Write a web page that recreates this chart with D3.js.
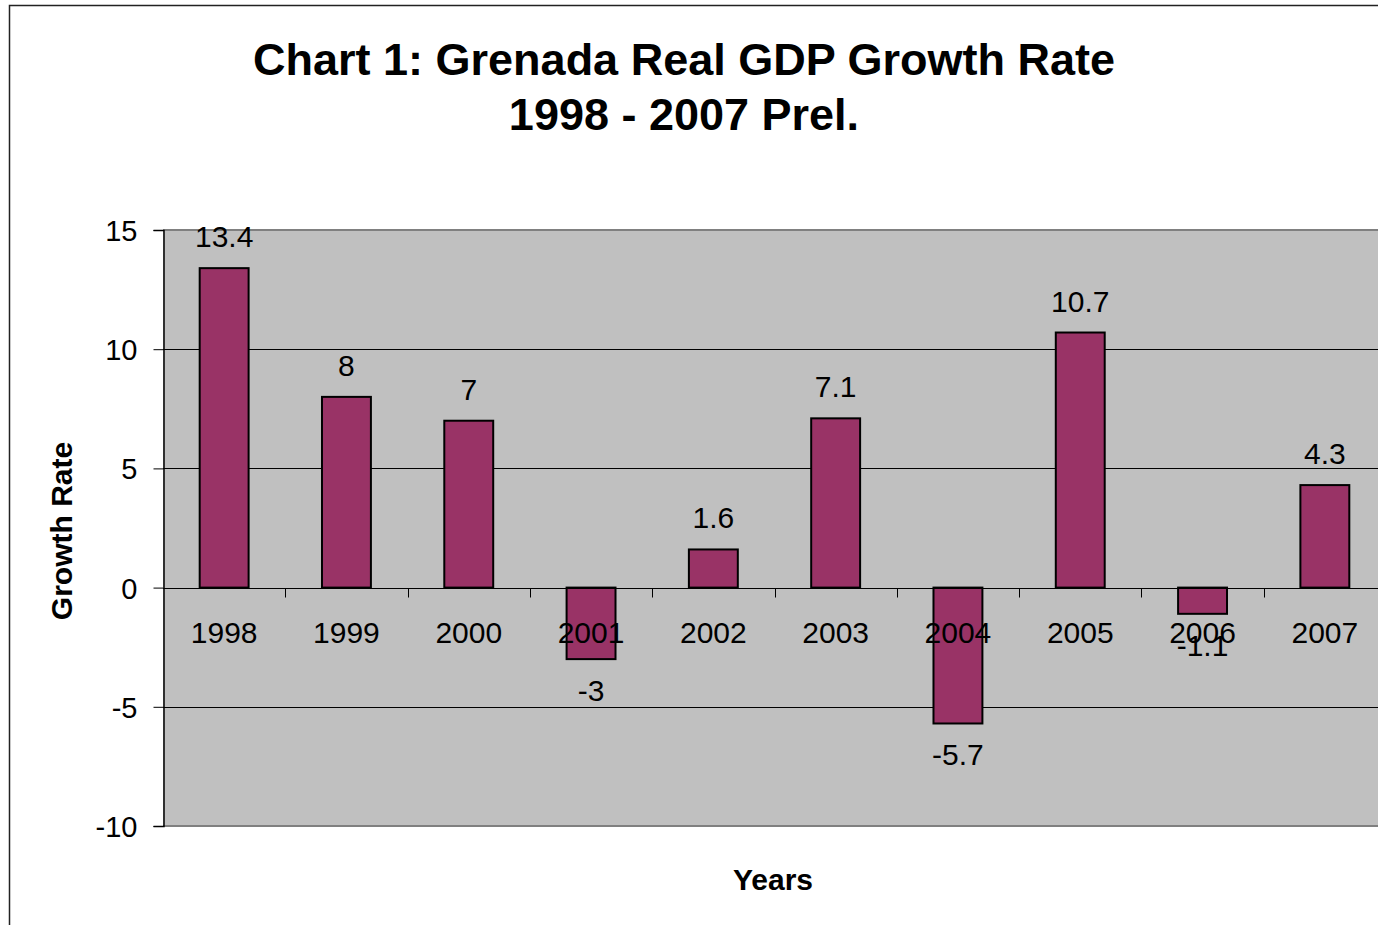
<!DOCTYPE html>
<html>
<head>
<meta charset="utf-8">
<script src="https://cdn.jsdelivr.net/npm/d3@7"></script>
<style>
  html, body { margin: 0; padding: 0; background: #fff; overflow: hidden; }
  text { font-family: "Liberation Sans", Arial, sans-serif; fill: #000; }
</style>
</head>
<body>
<svg id="chart" width="1378" height="925"></svg>
<script>
// Real GDP growth rate, Grenada
const years = ["1998", "1999", "2000", "2001", "2002", "2003", "2004", "2005", "2006", "2007"];
const growth = [13.4, 8, 7, -3, 1.6, 7.1, -5.7, 10.7, -1.1, 4.3];
const yTicks = [-10, -5, 0, 5, 10, 15];
const titleLines = ["Chart 1: Grenada Real GDP Growth Rate", "1998 - 2007 Prel."];

const svg = d3.select("#chart");

// outer chart frame (runs past the right and bottom of the view)
svg.append("rect")
  .attr("x", 9.5).attr("y", 5.5)
  .attr("width", 1500).attr("height", 1100)
  .attr("fill", "#fff").attr("stroke", "#222").attr("stroke-width", 1.5);

const plot = { left: 163, right: 1386, top: 230, bottom: 826 };

const x = d3.scaleBand()
  .domain(years)
  .range([plot.left, plot.right])
  .paddingInner(0.6)
  .paddingOuter(0.3);

const y = d3.scaleLinear()
  .domain([-10, 15])
  .range([plot.bottom, plot.top]);

// plot background
svg.append("rect")
  .attr("x", plot.left).attr("y", plot.top)
  .attr("width", plot.right - plot.left).attr("height", plot.bottom - plot.top)
  .attr("fill", "#c0c0c0");

// horizontal gridlines
svg.append("g")
  .selectAll("line")
  .data(yTicks.filter(d => d !== 15 && d !== -10))
  .join("line")
  .attr("x1", plot.left).attr("x2", plot.right)
  .attr("y1", d => Math.round(y(d)) + 0.5).attr("y2", d => Math.round(y(d)) + 0.5)
  .attr("stroke", "#000").attr("stroke-width", 1);

// plot frame top and bottom
svg.append("line")
  .attr("x1", plot.left).attr("x2", plot.right)
  .attr("y1", plot.top).attr("y2", plot.top)
  .attr("stroke", "#808080").attr("stroke-width", 2);
svg.append("line")
  .attr("x1", plot.left).attr("x2", plot.right)
  .attr("y1", plot.bottom).attr("y2", plot.bottom)
  .attr("stroke", "#808080").attr("stroke-width", 2);

// y axis
const yAxis = d3.axisLeft(y)
  .tickValues(yTicks)
  .tickSize(10)
  .tickPadding(16)
  .tickFormat(d => String(d));
const gy = svg.append("g")
  .attr("transform", `translate(${plot.left + 0.5},0)`)
  .call(yAxis);
gy.select(".domain").attr("stroke", "#000").attr("stroke-width", 1.5);
gy.selectAll(".tick line").attr("stroke", "#000");
gy.selectAll(".tick text")
  .style("font-size", "29px")
  .attr("dy", "0.36em");

// bars
svg.append("g")
  .selectAll("rect")
  .data(years.map((yr, i) => ({ yr, v: growth[i] })))
  .join("rect")
  .attr("x", d => x(d.yr))
  .attr("width", x.bandwidth())
  .attr("y", d => y(Math.max(0, d.v)))
  .attr("height", d => Math.abs(y(d.v) - y(0)))
  .attr("fill", "#993366")
  .attr("stroke", "#000")
  .attr("stroke-width", 2);

// zero line with category ticks
const y0 = Math.round(y(0)) + 0.5;
svg.append("line")
  .attr("x1", plot.left).attr("x2", plot.right)
  .attr("y1", y0).attr("y2", y0)
  .attr("stroke", "#000").attr("stroke-width", 1);
const step = x.step();
svg.append("g")
  .selectAll("line")
  .data(d3.range(1, years.length + 1))
  .join("line")
  .attr("x1", i => Math.round(plot.left + i * step) + 0.5)
  .attr("x2", i => Math.round(plot.left + i * step) + 0.5)
  .attr("y1", y0).attr("y2", y0 + 9)
  .attr("stroke", "#000");

// category labels
svg.append("g")
  .selectAll("text")
  .data(years)
  .join("text")
  .attr("x", d => x(d) + x.bandwidth() / 2)
  .attr("y", 643)
  .attr("text-anchor", "middle")
  .style("font-size", "30px")
  .text(d => d);

// value labels
svg.append("g")
  .selectAll("text")
  .data(years.map((yr, i) => ({ yr, v: growth[i] })))
  .join("text")
  .attr("x", d => x(d.yr) + x.bandwidth() / 2)
  .attr("y", d => d.v >= 0 ? y(d.v) - 21 : y(d.v) + 42)
  .attr("text-anchor", "middle")
  .style("font-size", "30px")
  .text(d => String(d.v));

// title
svg.append("g")
  .selectAll("text")
  .data(titleLines)
  .join("text")
  .attr("x", 684)
  .attr("y", (d, i) => 75 + i * 55)
  .attr("text-anchor", "middle")
  .style("font-size", "45px")
  .style("font-weight", "bold")
  .text(d => d);

// axis titles
svg.append("text")
  .attr("transform", "translate(72,531) rotate(-90)")
  .attr("text-anchor", "middle")
  .style("font-size", "30px")
  .style("font-weight", "bold")
  .text("Growth Rate");

svg.append("text")
  .attr("x", 773)
  .attr("y", 890)
  .attr("text-anchor", "middle")
  .style("font-size", "30px")
  .style("font-weight", "bold")
  .text("Years");
</script>
</body>
</html>
